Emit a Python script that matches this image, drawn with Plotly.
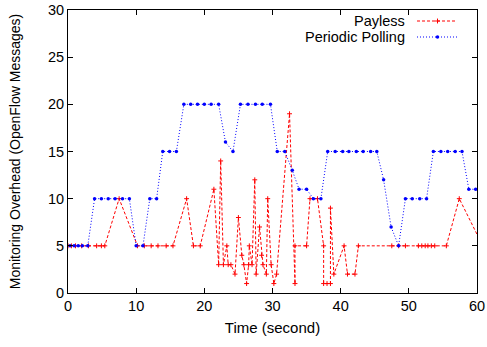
import plotly.graph_objects as go

# ---- data ----
payless_t = [0, 0.5, 1.1, 2.0, 3.0, 4.2, 4.9, 5.4, 7.5, 10.2, 11.2, 12.2, 13.2, 14.4, 15.4,
             17.4, 18.4, 19.4, 21.4, 22.1, 22.4, 22.8, 23.3, 23.5, 23.9, 24.5, 25.0, 25.5,
             25.8, 26.2, 26.5, 26.6, 27.0, 27.4, 27.6, 28.1, 28.4, 28.6, 29.1, 29.3, 29.8,
             30.2, 30.6, 32.5, 33.3, 33.3, 35.0, 35.5, 36.6, 37.5, 37.5, 38.0, 38.5, 38.5,
             39.0, 40.5, 41.0, 42.1, 42.6, 47.5, 48.5, 49.5, 51.4, 51.9, 52.4, 52.8, 53.3,
             53.8, 55.5, 57.4, 60.5]
payless_v = [5, 5, 5, 5, 5, 5, 5, 5, 10, 5, 5, 5, 5, 5, 5,
             10, 5, 5, 11, 3, 14, 3, 5, 3, 3, 2, 8, 4,
             3, 1, 3, 5, 3, 12, 2, 7, 4, 3, 2, 10, 3,
             1, 2, 19, 1, 5, 5, 10, 10, 5, 1, 1, 1, 9,
             2, 5, 2, 2, 5, 5, 5, 5, 5, 5, 5, 5, 5,
             5, 5, 10, 5.5]

polling_t = [0.3, 0.9, 1.5, 2.1, 2.9, 3.9, 4.9, 5.9, 6.9, 8.0, 9.0, 10.0, 11.0, 12.0, 13.0,
             13.9, 14.9, 15.9, 17.0, 18.0, 19.0, 20.0, 21.0, 22.1, 23.1, 24.2, 25.3, 26.4,
             27.5, 28.5, 29.7, 30.7, 31.8, 32.9, 33.9, 35.0, 36.0, 37.1, 38.1, 39.2, 40.3,
             41.2, 42.3, 43.3, 44.4, 45.3, 46.3, 47.4, 48.5, 49.5, 50.5, 51.6, 52.6, 53.6,
             54.7, 55.7, 56.8, 57.8, 58.8, 59.8]
polling_v = [5, 5, 5, 5, 5, 10, 10, 10, 10, 10, 10, 5, 5, 10, 10,
             15, 15, 15, 20, 20, 20, 20, 20, 20, 16, 15, 20, 20,
             20, 20, 20, 15, 15, 13, 11, 11, 10, 10, 15, 15, 15,
             15, 15, 15, 15, 15, 12, 7, 5, 10, 10, 10, 10, 15,
             15, 15, 15, 15, 11, 11]

series_names = ["Payless", "Periodic Polling"]
x_ticks = [0, 10, 20, 30, 40, 50, 60]
y_ticks = [0, 5, 10, 15, 20, 25, 30]

RED = "#ff0000"
BLUE = "#0000ff"
FONT = "Liberation Sans, Arial, Helvetica, sans-serif"
FS = 14.5

red_line = dict(color=RED, width=1, dash="3px,2px")
red_marker = dict(symbol="cross-thin", size=3.5, color=RED, line=dict(color=RED, width=1))
blue_line = dict(color=BLUE, width=1, dash="1px,2px")
blue_marker = dict(symbol="circle", size=3.5, color=BLUE, line=dict(width=0))

fig = go.Figure()

fig.add_trace(go.Scatter(
    x=payless_t, y=payless_v, mode="lines+markers", name=series_names[0],
    line=red_line, marker=red_marker, cliponaxis=True, showlegend=False,
))
fig.add_trace(go.Scatter(
    x=polling_t, y=polling_v, mode="lines+markers", name=series_names[1],
    line=blue_line, marker=blue_marker, cliponaxis=True, showlegend=False,
))

# ---- legend, drawn gnuplot-style (text right-aligned, sample at right) on a pixel overlay axis ----
PL, PR, PT, PB = 68, 477, 10, 293
leg_rows = [21, 37]
for name, yy, ln, mk in zip(series_names, leg_rows, [red_line, blue_line], [red_marker, blue_marker]):
    fig.add_trace(go.Scatter(x=[417, 457], y=[yy, yy], mode="lines", xaxis="x2", yaxis="y2",
                             line=ln, showlegend=False, hoverinfo="skip"))
    fig.add_trace(go.Scatter(x=[437.5], y=[yy], mode="markers", xaxis="x2", yaxis="y2",
                             marker=mk, showlegend=False, hoverinfo="skip"))
    fig.add_annotation(x=407, y=yy, xref="x2", yref="y2", text=name, showarrow=False,
                       xanchor="right", yanchor="middle",
                       font=dict(family=FONT, size=FS, color="black"))

axis_common = dict(showgrid=False, zeroline=False, showline=True, linecolor="black",
                   linewidth=1, mirror="ticks", ticks="inside", ticklen=5, tickwidth=1,
                   tickcolor="black", tickfont=dict(family=FONT, size=FS, color="black"),
                   automargin=False)

fig.update_layout(
    width=487, height=347,
    margin=dict(l=PL, r=487 - PR, t=PT, b=347 - PB, autoexpand=False),
    paper_bgcolor="white", plot_bgcolor="white",
    font=dict(family=FONT, size=FS, color="black"),
    xaxis=dict(range=[0, 60], tickvals=x_ticks, ticktext=[str(v) for v in x_ticks],
               title=dict(text="Time (second)", font=dict(family=FONT, size=15), standoff=9),
               **axis_common),
    yaxis=dict(range=[0, 30], tickvals=y_ticks, ticktext=[str(v) for v in y_ticks],
               title=dict(text="Monitoring Overhead (OpenFlow Messages)",
                          font=dict(family=FONT, size=14), standoff=24),
               **axis_common),
    xaxis2=dict(range=[PL, PR], overlaying="x", anchor="y2", visible=False, fixedrange=True),
    yaxis2=dict(range=[PB, PT], overlaying="y", anchor="x2", visible=False, fixedrange=True),
    showlegend=False,
)

fig.write_html("out.html", config={"displayModeBar": False},
               post_script="document.body.style.margin='0px';document.body.style.padding='0px';")
